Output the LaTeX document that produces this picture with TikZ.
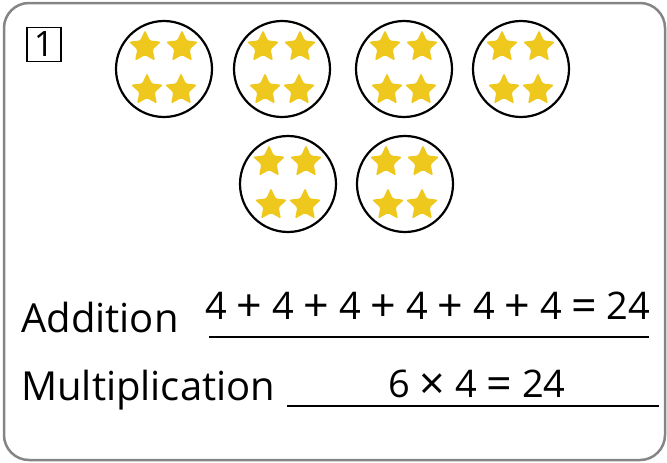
\documentclass[tikz,border=0pt]{standalone}
\usepackage{fontspec}
\setmainfont{Open Sans}
\usetikzlibrary{shapes.geometric,calc}
\definecolor{starc}{HTML}{EEC81C}
\definecolor{framec}{HTML}{858585}
\tikzset{
  coin/.style={circle, draw=black, line width=2.2pt, minimum size=96pt, inner sep=0pt},
  gstar/.style={star, star points=5, star point ratio=2.1, minimum size=34pt, inner sep=0pt, fill=starc, rounded corners=1.5pt},
  lbl/.style={anchor=base west, inner sep=0pt, font=\fontsize{40}{44}\selectfont},
  eq/.style={anchor=base west, inner sep=0pt, font=\fontsize{38}{42}\selectfont},
  rule/.style={line width=1.8pt, black},
  numbox/.style={draw=black, line width=1.8pt, minimum size=34pt, inner sep=0pt, font=\fontsize{35}{36}\selectfont}
}
\newcommand{\gp}{\hspace{9.8pt}}
\newcommand{\bigop}[1]{\raisebox{-2.5pt}{\scalebox{1.18}{#1}}}
\begin{document}
\begin{tikzpicture}[x=1pt,y=-1pt]
\useasboundingbox (0,0) rectangle (667,463);
\draw[framec, line width=2.5pt, rounded corners=25pt] (4,3) rectangle (665,460);
\node[numbox] (num) at (44,44.5) {1};
\foreach \n/\x/\y in {c1/164/69, c2/282/69, c3/404/69, c4/521/69, c5/288/184, c6/405/184} {
  \node[coin] (\n) at (\x,\y) {};
  \node[gstar] (\n s1) at ($(\n)+(-19,-22)$) {};
  \node[gstar] (\n s2) at ($(\n)+(18,-22)$) {};
  \node[gstar] (\n s3) at ($(\n)+(-17,21)$) {};
  \node[gstar] (\n s4) at ($(\n)+(17,21)$) {};
}
\node[lbl] (add) at (21,332) {Addition};
\node[lbl] (mul) at (21,400) {Multiplication};
\node[eq] (eqa) at (205,319) {4\gp\bigop{+}\gp4\gp\bigop{+}\gp4\gp\bigop{+}\gp4\gp\bigop{+}\gp4\gp\bigop{+}\gp4\gp\bigop{=}\gp24};
\node[eq] (eqm) at (388,397) {6\gp\bigop{×}\gp4\gp\bigop{=}\gp24};
\coordinate (a1) at (209,337);
\coordinate (a2) at (649,337);
\coordinate (m1) at (287,406);
\coordinate (m2) at (659,406);
\draw[rule] (a1) -- (a2);
\draw[rule] (m1) -- (m2);
\end{tikzpicture}
\end{document}
